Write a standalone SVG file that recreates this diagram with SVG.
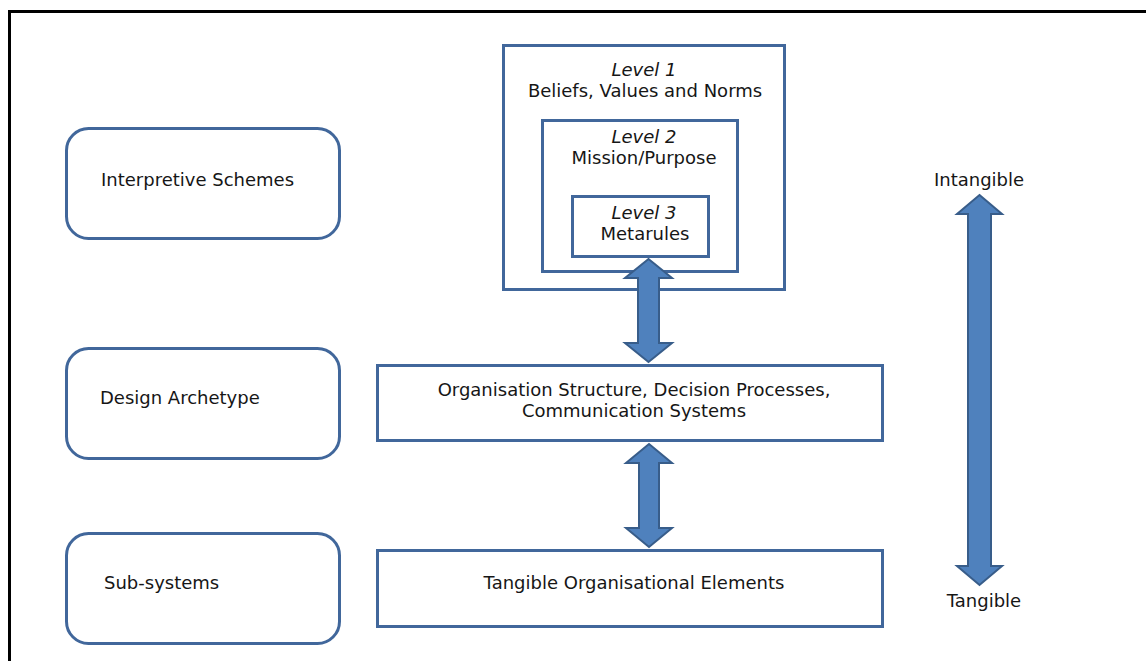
<svg xmlns="http://www.w3.org/2000/svg" width="1146" height="661" viewBox="0 0 1146 661">
  <style>
    .frame { fill: none; stroke: #000; stroke-width: 3; }
    .layer { fill: #fff; stroke: #41679b; stroke-width: 3; }
    .box { fill: #fff; stroke: #41679b; stroke-width: 3; }
    .arrow { fill: #4f81bd; stroke: #385d8a; stroke-width: 2; stroke-linejoin: miter; }
    text { font-family: "DejaVu Sans", "Noto Sans", sans-serif; font-size: 18px; fill: #161616; }
    .c { text-anchor: middle; }
    .it { font-style: italic; }
  </style>
  <rect width="1146" height="661" fill="#fff"/>
  <!-- outer frame (right and bottom edges run off the page) -->
  <rect class="frame" x="9.5" y="11.5" width="1160" height="680"/>

  <g id="interpretive-schemes">
    <rect class="layer" x="66.5" y="128.5" width="273" height="110" rx="22"/>
    <text x="101" y="186">Interpretive Schemes</text>
  </g>
  <g id="design-archetype">
    <rect class="layer" x="66.5" y="348.5" width="273" height="110" rx="22"/>
    <text x="100" y="404">Design Archetype</text>
  </g>
  <g id="sub-systems">
    <rect class="layer" x="66.5" y="533.5" width="273" height="110" rx="22"/>
    <text x="104" y="589">Sub-systems</text>
  </g>

  <g id="level-1">
    <rect class="box" x="503.5" y="45.5" width="281" height="244"/>
    <text class="c it" x="644" y="76">Level 1</text>
    <text class="c" x="645" y="97">Beliefs, Values and Norms</text>
  </g>
  <g id="level-2">
    <rect class="box" x="542.5" y="120.5" width="195" height="151"/>
    <text class="c it" x="644" y="143">Level 2</text>
    <text class="c" x="644" y="164">Mission/Purpose</text>
  </g>
  <g id="level-3">
    <rect class="box" x="572.5" y="196.5" width="136" height="60"/>
    <text class="c it" x="644" y="219">Level 3</text>
    <text class="c" x="645" y="240">Metarules</text>
  </g>

  <g id="organisation-structure">
    <rect class="box" x="377.5" y="365.5" width="505" height="75"/>
    <text class="c" x="634" y="396">Organisation Structure, Decision Processes,</text>
    <text class="c" x="634" y="417">Communication Systems</text>
  </g>
  <g id="tangible-elements">
    <rect class="box" x="377.5" y="550.5" width="505" height="76"/>
    <text class="c" x="634" y="589">Tangible Organisational Elements</text>
  </g>

  <g id="scale-labels">
    <text class="c" x="979" y="186">Intangible</text>
    <text class="c" x="984" y="607">Tangible</text>
  </g>

  <g id="connectors">
    <!-- levels <-> organisation structure -->
    <path class="arrow" d="M648.5,259 L672,278 L659,278 L659,343 L672,343 L648.5,362 L625,343 L638,343 L638,278 L625,278 Z"/>
    <!-- organisation structure <-> tangible elements -->
    <path class="arrow" d="M649,444 L672,463 L659,463 L659,528 L672,528 L649,547 L626,528 L639,528 L639,463 L626,463 Z"/>
    <!-- intangible <-> tangible scale -->
    <path class="arrow" d="M979.5,195 L1002,214 L991,214 L991,566 L1002,566 L979.5,585 L957,566 L968,566 L968,214 L957,214 Z"/>
  </g>
</svg>
